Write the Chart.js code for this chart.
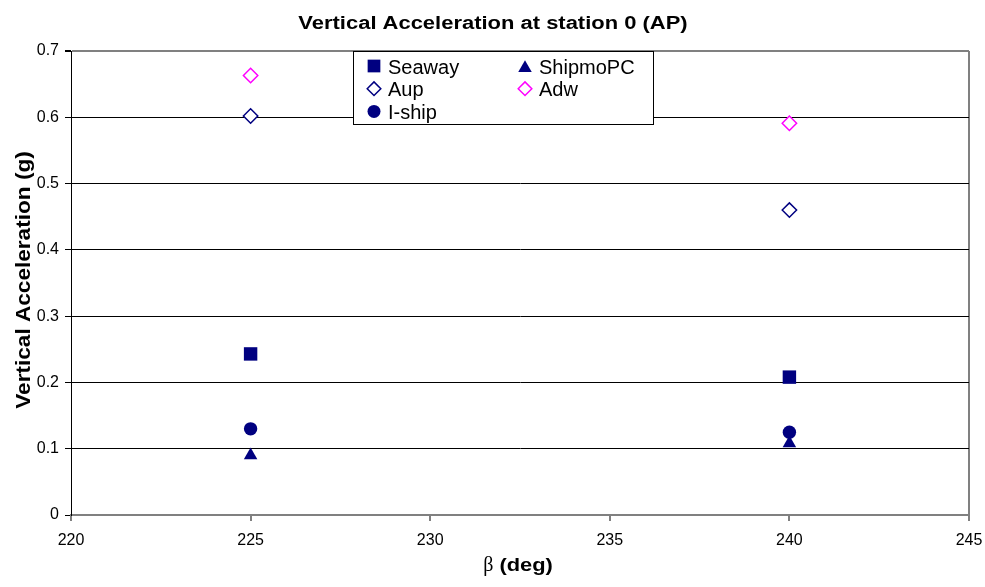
<!DOCTYPE html>
<html>
<head>
<meta charset="utf-8">
<script src="https://cdn.jsdelivr.net/npm/chart.js@4/dist/chart.umd.min.js"></script>
<style>
  html, body { margin: 0; padding: 0; background: #fff; }
  canvas { display: block; }
</style>
</head>
<body>
<canvas id="accChart" width="985" height="587"></canvas>
<script>
// data
const betaValues = [225, 240];
const seawayValues = [0.243, 0.208];
const shipmoValues = [0.090, 0.108];
const aupValues = [0.602, 0.460];
const adwValues = [0.663, 0.591];
const ishipValues = [0.130, 0.125];
const xTicks = [220, 225, 230, 235, 240, 245];
const yTicks = [0, 0.1, 0.2, 0.3, 0.4, 0.5, 0.6, 0.7];

const chartTitle = 'Vertical Acceleration at station 0 (AP)';
const yTitle = 'Vertical Acceleration (g)';

const NAVY = '#000080';
const GRAY = '#808080';

function toPoints(values) {
    return betaValues.map((x, i) => ({ x: x, y: values[i] }));
}

// titles + legend box drawn by hand so they can sit like the original
const decorPlugin = {
    id: 'decor',
    afterDraw(chart) {
        const ctx = chart.ctx;
        const area = chart.chartArea;

        // chart title (the original text is rendered wide)
        ctx.save();
        ctx.fillStyle = '#000';
        ctx.font = 'bold 18px "Liberation Sans", Arial, sans-serif';
        ctx.textAlign = 'center';
        ctx.textBaseline = 'alphabetic';
        ctx.translate(493, 29);
        ctx.scale(1.22, 1);
        ctx.fillText(chartTitle, 0, 0);
        ctx.restore();

        // y axis title
        ctx.save();
        ctx.fillStyle = '#000';
        ctx.font = 'bold 20px "Liberation Sans", Arial, sans-serif';
        ctx.textAlign = 'center';
        ctx.textBaseline = 'alphabetic';
        ctx.translate(30, (area.top + area.bottom) / 2 - 3);
        ctx.rotate(-Math.PI / 2);
        ctx.scale(1.13, 1);
        ctx.fillText(yTitle, 0, 0);
        ctx.restore();

        // x axis title: beta in symbol style + bold (deg)
        ctx.save();
        ctx.fillStyle = '#000';
        ctx.textBaseline = 'alphabetic';
        const betaFont = '20px "Liberation Serif", "DejaVu Serif", serif';
        const degFont = 'bold 19px "Liberation Sans", Arial, sans-serif';
        ctx.font = betaFont;
        const wb = ctx.measureText('\u03B2').width;
        ctx.font = degFont;
        const wd = ctx.measureText(' (deg)').width * 1.15;
        const cx = (area.left + area.right) / 2 - 2;
        let x0 = cx - (wb + wd) / 2;
        ctx.font = betaFont;
        ctx.textAlign = 'left';
        ctx.fillText('\u03B2', x0, 571);
        ctx.font = degFont;
        ctx.translate(x0 + wb, 571);
        ctx.scale(1.15, 1);
        ctx.fillText(' (deg)', 0, 0);
        ctx.restore();

        // legend
        ctx.save();
        ctx.fillStyle = '#fff';
        ctx.fillRect(353, 51, 300, 73);
        ctx.strokeStyle = '#000';
        ctx.lineWidth = 1;
        ctx.strokeRect(353.5, 51.5, 300, 73);
        ctx.font = '20px "Liberation Sans", Arial, sans-serif';
        ctx.textAlign = 'left';
        ctx.textBaseline = 'alphabetic';
        chart.data.datasets.forEach((ds, i) => {
            const col = i % 2;
            const row = Math.floor(i / 2);
            const mx = col === 0 ? 374 : 525;
            const my = 66 + row * 22.7;
            ctx.fillStyle = ds.backgroundColor;
            ctx.strokeStyle = ds.borderColor;
            ctx.lineWidth = ds.borderWidth;
            Chart.helpers.drawPoint(ctx, {
                pointStyle: ds.pointStyle,
                radius: ds.legendRadius,
                rotation: 0,
                borderWidth: ds.borderWidth
            }, mx, my + (ds.pointStyle === 'triangle' ? 2 : 0));
            ctx.fillStyle = '#000';
            ctx.fillText(ds.label, mx + 14, my + 7.5);
        });
        ctx.restore();
    }
};

const ctx = document.getElementById('accChart').getContext('2d');

new Chart(ctx, {
    type: 'scatter',
    data: {
        datasets: [
            {
                label: 'Seaway',
                data: toPoints(seawayValues),
                pointStyle: 'rect',
                pointRadius: 9.5,
                legendRadius: 9,
                backgroundColor: NAVY,
                borderColor: NAVY,
                borderWidth: 0
            },
            {
                label: 'ShipmoPC',
                data: toPoints(shipmoValues),
                pointStyle: 'triangle',
                pointRadius: 7.8,
                legendRadius: 7.8,
                backgroundColor: NAVY,
                borderColor: NAVY,
                borderWidth: 0
            },
            {
                label: 'Aup',
                data: toPoints(aupValues),
                pointStyle: 'rectRot',
                pointRadius: 7.2,
                legendRadius: 6.8,
                backgroundColor: '#fff',
                borderColor: NAVY,
                borderWidth: 1.5
            },
            {
                label: 'Adw',
                data: toPoints(adwValues),
                pointStyle: 'rectRot',
                pointRadius: 7.2,
                legendRadius: 6.8,
                backgroundColor: '#fff',
                borderColor: '#ff00ff',
                borderWidth: 1.5
            },
            {
                label: 'I-ship',
                data: toPoints(ishipValues),
                pointStyle: 'circle',
                pointRadius: 6.7,
                legendRadius: 6.5,
                backgroundColor: NAVY,
                borderColor: NAVY,
                borderWidth: 0
            }
        ]
    },
    options: {
        responsive: false,
        animation: false,
        devicePixelRatio: 1,
        layout: { padding: { top: 51, right: 16, left: 0, bottom: 0 } },
        plugins: {
            legend: { display: false },
            title: { display: false },
            tooltip: { enabled: false }
        },
        elements: { point: { hoverRadius: 7 } },
        scales: {
            x: {
                type: 'linear',
                min: xTicks[0],
                max: xTicks[xTicks.length - 1],
                afterBuildTicks: (scale) => { scale.ticks = xTicks.map(v => ({ value: v })); },
                afterFit: (scale) => {
                    scale.height = 72;
                    scale.paddingLeft = 0;
                    scale.paddingRight = 0;
                },
                grid: {
                    drawOnChartArea: true,
                    color: (c) => (c.tick && c.tick.value === 245 ? GRAY : 'rgba(0,0,0,0)'),
                    lineWidth: 2,
                    tickColor: GRAY,
                    tickLength: 6
                },
                border: { display: true, color: GRAY, width: 2 },
                ticks: {
                    color: '#000',
                    padding: 10,
                    maxRotation: 0,
                    font: { family: '"Liberation Sans", Arial, sans-serif', size: 16 }
                }
            },
            y: {
                type: 'linear',
                min: 0,
                max: 0.7,
                afterBuildTicks: (scale) => { scale.ticks = yTicks.map(v => ({ value: v })); },
                afterFit: (scale) => {
                    scale.width = 71;
                    scale.paddingTop = 0;
                    scale.paddingBottom = 0;
                },
                grid: {
                    color: (c) => {
                        if (!c.tick) return '#000';
                        const v = Math.round(c.tick.value * 10) / 10;
                        return (v === 0.7 || v === 0) ? GRAY : '#000';
                    },
                    lineWidth: (c) => {
                        if (!c.tick) return 1;
                        const v = Math.round(c.tick.value * 10) / 10;
                        return (v === 0.7) ? 2 : 1;
                    },
                    tickColor: '#000',
                    tickLength: 6
                },
                border: { display: true, color: '#000', width: 1 },
                ticks: {
                    color: '#000',
                    padding: 6,
                    callback: (v) => String(Math.round(v * 10) / 10),
                    font: { family: '"Liberation Sans", Arial, sans-serif', size: 16 }
                }
            }
        }
    },
    plugins: [decorPlugin]
});
</script>
</body>
</html>
